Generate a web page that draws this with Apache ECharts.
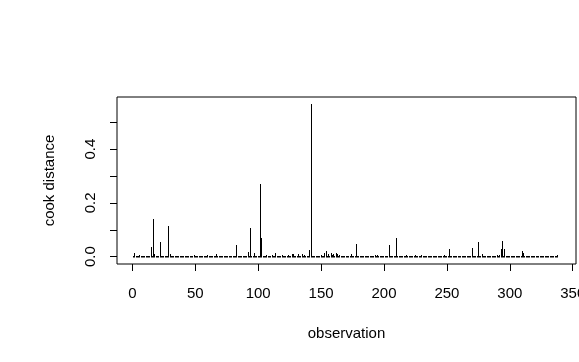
<!DOCTYPE html>
<html>
<head>
<meta charset="utf-8">
<script src="https://cdn.jsdelivr.net/npm/echarts@6/dist/echarts.min.js"></script>
<style>html,body{margin:0;padding:0;background:#fff}#c{width:579px;height:362px}</style>
</head>
<body>
<div id="c"></div>
<script>
const cookValues = [
0.003,0.012,0.002,0.001,0.002,0.006,0.002,0.001,0.002,0.003,
0.002,0.001,0.003,0.002,0.036,0.002,0.140,0.010,0.002,0.001,
0.003,0.056,0.002,0.001,0.002,0.003,0.001,0.002,0.114,0.010,
0.002,0.001,0.002,0.003,0.001,0.002,0.001,0.002,0.003,0.001,
0.002,0.001,0.002,0.001,0.003,0.002,0.001,0.002,0.008,0.002,
0.001,0.002,0.003,0.001,0.002,0.001,0.002,0.003,0.001,0.008,
0.002,0.001,0.002,0.003,0.001,0.002,0.009,0.002,0.001,0.002,
0.003,0.001,0.002,0.001,0.002,0.003,0.001,0.002,0.001,0.002,
0.003,0.002,0.044,0.001,0.002,0.003,0.001,0.002,0.001,0.002,
0.003,0.016,0.002,0.108,0.003,0.002,0.015,0.001,0.002,0.003,
0.002,0.269,0.071,0.002,0.001,0.003,0.006,0.002,0.001,0.003,
0.007,0.002,0.001,0.013,0.003,0.002,0.001,0.003,0.008,0.002,
0.001,0.002,0.003,0.008,0.002,0.001,0.009,0.010,0.002,0.003,
0.002,0.010,0.001,0.003,0.009,0.002,0.008,0.001,0.003,0.002,
0.025,0.568,0.002,0.001,0.003,0.002,0.004,0.003,0.002,0.008,
0.003,0.004,0.012,0.021,0.003,0.010,0.004,0.015,0.006,0.010,
0.004,0.012,0.009,0.003,0.007,0.004,0.002,0.003,0.002,0.001,
0.002,0.003,0.004,0.010,0.002,0.003,0.004,0.047,0.002,0.001,
0.002,0.001,0.002,0.001,0.002,0.003,0.001,0.002,0.001,0.002,
0.003,0.002,0.006,0.001,0.006,0.002,0.001,0.002,0.003,0.001,
0.002,0.001,0.002,0.044,0.002,0.001,0.003,0.002,0.004,0.070,
0.003,0.002,0.001,0.002,0.003,0.001,0.002,0.008,0.002,0.001,
0.002,0.001,0.002,0.003,0.005,0.001,0.002,0.001,0.002,0.005,
0.001,0.002,0.001,0.002,0.001,0.003,0.001,0.002,0.001,0.002,
0.001,0.002,0.003,0.001,0.002,0.004,0.002,0.008,0.003,0.002,
0.003,0.029,0.002,0.001,0.002,0.001,0.002,0.001,0.002,0.001,
0.002,0.001,0.002,0.001,0.002,0.003,0.001,0.002,0.003,0.034,
0.002,0.003,0.001,0.002,0.056,0.003,0.002,0.010,0.002,0.001,
0.002,0.001,0.002,0.001,0.003,0.002,0.001,0.002,0.004,0.008,
0.003,0.005,0.029,0.058,0.004,0.029,0.003,0.002,0.001,0.002,
0.001,0.002,0.001,0.002,0.001,0.002,0.001,0.003,0.002,0.021,
0.014,0.003,0.002,0.001,0.002,0.001,0.002,0.001,0.002,0.001,
0.002,0.001,0.002,0.001,0.002,0.001,0.002,0.001,0.002,0.001,
0.002,0.001,0.002,0.001,0.002,0.001,0.002,0.005
];
const observations = cookValues.map((v, i) => i + 1);
const xTicks = [0, 50, 100, 150, 200, 250, 300, 350];
const yTicks = [0, 0.1, 0.2, 0.3, 0.4, 0.5];
const yLabels = [0, 0.2, 0.4];

const FONT = 'Liberation Sans, Arial, sans-serif';
const chart = echarts.init(document.getElementById('c'), null, {renderer: 'canvas'});
chart.setOption({
  animation: false,
  backgroundColor: '#fff',
  grid: {left: 117, top: 97, right: 3, bottom: 98, show: true, borderColor: '#000', borderWidth: 1,
    backgroundColor: 'transparent', containLabel: false, outerBoundsMode: 'none'},
  xAxis: {
    type: 'value', min: function () { return -12.2; }, max: function () { return 352.6; },
    name: 'observation', nameLocation: 'middle', nameGap: 62,
    nameTextStyle: {fontFamily: FONT, fontSize: 15, color: '#000'},
    axisLine: {show: false, onZero: false},
    splitLine: {show: false},
    axisTick: {show: true, inside: false, length: 7, customValues: xTicks, lineStyle: {color: '#000', width: 1}},
    axisLabel: {customValues: xTicks, margin: 22, fontFamily: FONT, fontSize: 15, color: '#000', showMinLabel: true, showMaxLabel: true, hideOverlap: false}
  },
  yAxis: {
    type: 'value', min: -0.0272, max: 0.594,
    name: 'cook distance', nameLocation: 'middle', nameGap: 60,
    nameTextStyle: {fontFamily: FONT, fontSize: 15, color: '#000'},
    axisLine: {show: false, onZero: false},
    splitLine: {show: false},
    axisTick: {show: true, inside: false, length: 7, customValues: yTicks, lineStyle: {color: '#000', width: 1}},
    axisLabel: {customValues: yLabels, rotate: 90, margin: 19, fontFamily: FONT, fontSize: 15, color: '#000',
      formatter: v => Number(v).toFixed(1)}
  },
  series: [{
    type: 'custom',
    clip: true,
    data: observations.map((o, i) => [o, cookValues[i]]),
    renderItem: function (params, api) {
      const top = api.coord([api.value(0), api.value(1)]);
      const base = api.coord([api.value(0), 0]);
      const x = Math.round(top[0] - 0.5);
      const yb = Math.round(base[1]) + 0.5;
      let yt = Math.round(top[1]);
      if (yb - yt < 1) yt = yb - 1;
      return {type: 'rect', shape: {x: x, y: yt, width: 1, height: yb - yt}, style: {fill: '#000'}};
    }
  }]
});
</script>
</body>
</html>
